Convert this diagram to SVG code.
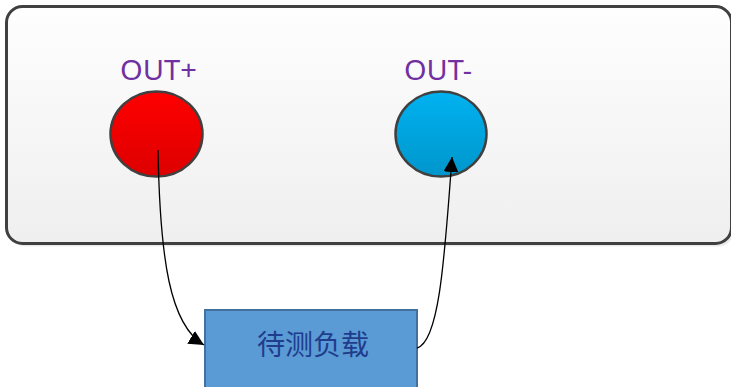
<svg xmlns="http://www.w3.org/2000/svg" width="731" height="387" viewBox="0 0 731 387">
<defs>
<linearGradient id="gPanel" x1="0" y1="0" x2="0" y2="1"><stop offset="0" stop-color="#fefefe"/><stop offset="1" stop-color="#efefef"/></linearGradient>
<linearGradient id="gRed" x1="0" y1="0" x2="0" y2="1"><stop offset="0" stop-color="#ff0000"/><stop offset="1" stop-color="#dd0000"/></linearGradient>
<linearGradient id="gBlue" x1="0" y1="0" x2="0" y2="1"><stop offset="0" stop-color="#00b2f0"/><stop offset="1" stop-color="#0096cc"/></linearGradient>
<marker id="arr" viewBox="0 0 10 10" refX="10" refY="5" markerWidth="15" markerHeight="15" markerUnits="userSpaceOnUse" orient="auto"><path d="M0,0 L10,5 L0,10 z" fill="#000"/></marker>
</defs>
<style>
.lbl{font-family:"Century Gothic","URW Gothic","Noto Sans","Liberation Sans",sans-serif;font-size:27px;fill:#7030a0}
.term{stroke:#404040;stroke-width:2.5}
.conn{fill:none;stroke:#000;stroke-width:1.3}
</style>
<g id="panel">
<rect x="7.5" y="7.5" width="725" height="237" rx="16" fill="#d8d8d8" opacity="0.5" transform="translate(1.5,2)"/>
<rect x="6.5" y="6.5" width="725" height="237" rx="16" fill="url(#gPanel)" stroke="#404040" stroke-width="3"/>
</g>
<g id="out-plus">
<text class="lbl" x="120" y="80" textLength="77" lengthAdjust="spacingAndGlyphs">OUT+</text>
<ellipse class="term" cx="156.5" cy="134" rx="46" ry="42.5" fill="url(#gRed)"/>
</g>
<g id="out-minus">
<text class="lbl" x="404" y="80" textLength="68" lengthAdjust="spacingAndGlyphs">OUT-</text>
<ellipse class="term" cx="441" cy="134" rx="45.5" ry="42.5" fill="url(#gBlue)"/>
</g>
<g id="load">
<rect x="205" y="310" width="212" height="80" fill="#5b9bd5" stroke="#41719c" stroke-width="2"/>
<text x="313" y="355" text-anchor="middle" font-family="'Noto Sans CJK SC','Noto Sans',sans-serif" font-size="28" fill="#1f3d8c">待测负载</text>
</g>
<g id="connectors">
<path class="conn" d="M158,150 C160,260 170,325 204,345" marker-end="url(#arr)"/>
<path class="conn" d="M417,348 C438,342 444,270 452,157" marker-end="url(#arr)"/>
</g>
</svg>
